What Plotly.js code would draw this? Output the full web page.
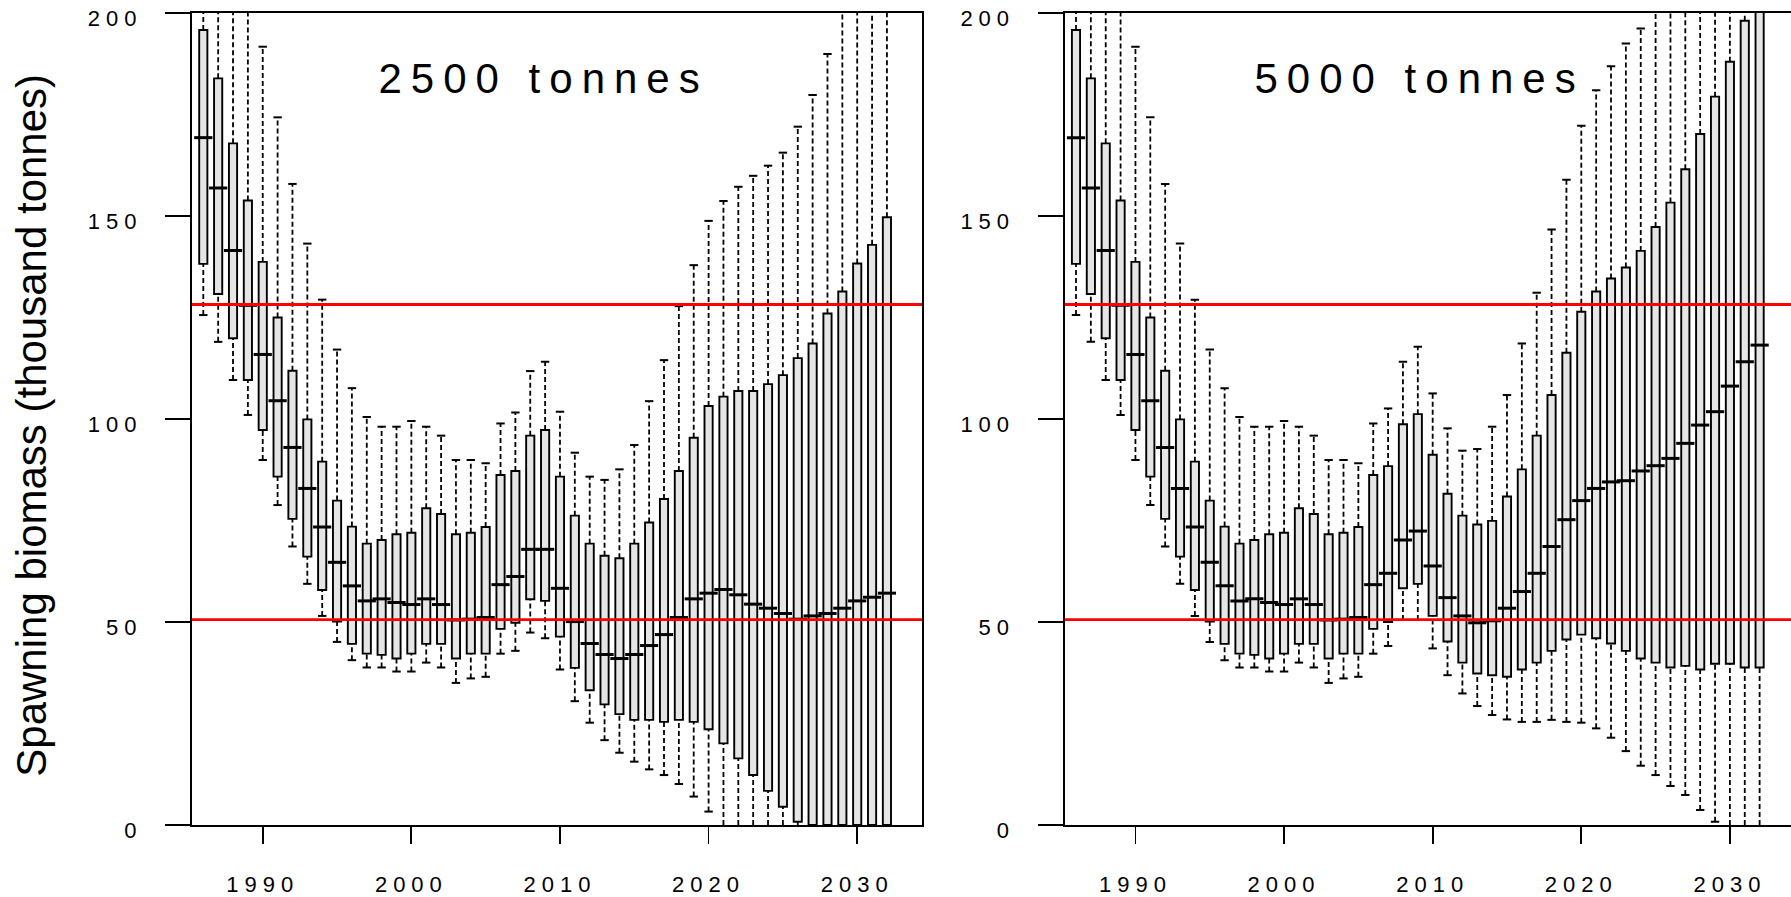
<!DOCTYPE html>
<html><head><meta charset="utf-8">
<script src="https://cdn.plot.ly/plotly-3.0.1.min.js"></script>
<style>
html,body{margin:0;padding:0;overflow:hidden;background:#fff;}
#chart{width:1800px;height:897px;}
g.xtick text, g.ytick text, g.x2tick text, g.y2tick text {letter-spacing:6px;}
g.annotation[data-index="1"] text, g.annotation[data-index="2"] text {letter-spacing:9px;}
</style></head><body><div id="chart"></div>
<script>
// ---- data ----
const years = [1986,1987,1988,1989,1990,1991,1992,1993,1994,1995,1996,1997,1998,1999,2000,
  2001,2002,2003,2004,2005,2006,2007,2008,2009,2010,2011,2012,2013,2014,2015,2016,2017,2018,
  2019,2020,2021,2022,2023,2024,2025,2026,2027,2028,2029,2030,2031,2032];

const panelTitles = ["2500 tonnes", "5000 tonnes"];
const xTickVals = [1990, 2000, 2010, 2020, 2030];
const yTickVals = [0, 50, 100, 150, 200];
const refLevels = [50.6, 128.2];
const yTitle = "Spawning biomass (thousand tonnes)";

// 2500 tonnes scenario
const lowA  = [125.6,119.0,109.6,101.0,89.9,78.8,68.6,59.4,51.5,45.1,40.6,38.8,38.8,37.8,37.8,
  40.0,38.8,35.0,36.1,36.5,42.2,42.9,47.4,46.0,38.3,30.5,25.2,20.9,17.8,15.6,13.7,12.3,10.1,
  7.0,3.3,0,0,0,0,0,0,0,0,0,0,0,0];
const q1A   = [138.2,130.8,119.9,109.6,97.3,85.8,75.4,66.1,57.9,50.1,44.6,42.2,41.9,41.0,42.2,
  44.6,44.6,41.0,42.2,42.2,48.3,49.8,55.6,55.2,46.4,38.7,33.2,29.7,27.3,25.9,25.9,25.4,25.9,
  25.4,23.6,20.1,16.4,12.3,8.4,4.5,0.8,0,0,0,0,0,0];
const medA  = [169.3,156.9,141.5,128.0,115.9,104.5,93.0,82.9,73.4,64.7,58.9,55.2,55.7,54.8,54.3,
  55.7,54.3,50.5,50.7,51.1,59.2,61.2,67.9,67.9,58.3,50.1,44.7,42.0,41.0,42.0,44.2,46.9,51.1,
  55.7,57.1,58.0,56.7,54.4,53.4,52.1,50.7,51.5,52.1,53.4,55.2,56.1,57.1];
const q3A   = [195.8,183.9,167.9,153.8,138.7,125.0,111.9,99.9,89.5,79.9,73.5,69.3,70.2,71.6,72.0,
  78.0,76.6,71.6,72.0,73.4,86.2,87.2,95.9,97.3,85.8,76.2,69.3,66.3,65.7,69.3,74.5,80.3,87.2,
  95.4,103.2,105.5,106.9,106.9,108.6,110.8,115.0,118.6,126.0,131.4,138.3,142.9,149.7];
const highA = [230,215,208,204,191.7,174.3,157.9,143.2,129.4,117.1,107.6,100.5,98.1,98.1,99.5,
  98.1,95.9,89.9,89.9,89.1,98.9,101.6,111.8,114.1,101.8,91.7,85.8,85.0,87.6,93.6,104.4,114.5,127.8,
  137.9,148.8,153.7,157.2,159.9,162.4,165.6,172.0,179.8,189.9,203,212,222,232];

// 5000 tonnes scenario
const lowB  = [125.6,119.0,109.6,101.0,89.9,78.8,68.6,59.4,51.5,45.1,40.6,38.8,38.8,37.8,37.8,
  40.0,38.8,35.0,36.1,36.5,42.2,44.1,50.5,50.5,43.5,36.9,32.4,29.3,27.1,26.0,25.4,25.4,25.9,
  25.4,25.2,23.8,21.5,18.2,14.6,12.3,9.6,7.4,3.7,0.8,0,0,0];
const q1B   = [138.2,130.8,119.9,109.6,97.3,85.8,75.4,66.1,57.9,50.1,44.6,42.2,41.9,41.0,42.2,
  44.6,44.6,41.0,42.2,42.2,48.3,50.0,58.3,59.4,51.5,45.2,40.0,37.3,36.9,36.5,38.3,40.0,42.9,
  45.7,46.9,46.0,44.7,42.9,41.0,40.0,38.8,39.2,38.3,39.7,39.7,38.8,38.8];
const medB  = [169.3,156.9,141.5,128.0,115.9,104.5,93.0,82.9,73.4,64.7,58.9,55.2,55.7,54.8,54.3,
  55.7,54.3,50.5,50.7,51.1,59.2,62.0,70.2,72.4,63.8,56.0,51.5,49.8,50.3,53.4,57.5,62.0,68.6,
  75.2,79.9,82.9,84.5,84.8,87.2,88.5,90.3,94.0,98.5,101.8,108.1,114.1,118.2];
const q3B   = [195.8,183.9,167.9,153.8,138.7,125.0,111.9,99.9,89.5,79.9,73.5,69.3,70.2,71.6,72.0,
  78.0,76.6,71.6,72.0,73.4,86.2,88.4,98.7,101.2,91.2,81.6,76.2,74.0,74.9,80.9,87.6,95.9,105.9,
  116.3,126.4,131.4,134.6,137.3,141.4,147.3,153.3,161.5,170.2,179.4,188.0,198.1,210];
const highB = [230,215,208,204,191.7,174.3,157.9,143.2,129.4,117.1,107.6,100.5,98.1,98.1,99.5,
  98.1,95.9,89.9,89.9,89.1,98.9,102.6,114.1,117.8,106.3,97.7,92.2,92.6,98.1,105.9,118.6,131.1,146.7,
  158.9,172.2,181.0,186.9,192.5,196.2,206,216,228,240,252,265,278,292];

// ---- build ----
const YMAX = 200;
function panelTraces(xa, ya, lo, q1, med, q3, hi) {
  const wx = [], wy = [];
  years.forEach((yr, i) => {
    wx.push(yr, yr, null, yr, yr, null);
    wy.push(q3[i], hi[i], null, lo[i], q1[i], null);
  });
  const cx = [], cy = [];
  years.forEach((yr, i) => {
    if (hi[i] < YMAX) { cx.push(yr); cy.push(hi[i]); }
    if (lo[i] > 0) { cx.push(yr); cy.push(lo[i]); }
  });
  return [
    {type:'scatter', mode:'lines', x:wx, y:wy, xaxis:xa, yaxis:ya, hoverinfo:'skip',
     line:{color:'#000', width:1.8, dash:'5px,3px'}},
    {type:'scatter', mode:'markers', x:cx, y:cy, xaxis:xa, yaxis:ya, hoverinfo:'skip',
     marker:{symbol:'line-ew', size:6, color:'#000', line:{color:'#000', width:2}}},
    {type:'bar', x:years, base:q1, y:q3.map((v, i) => v - q1[i]), xaxis:xa, yaxis:ya,
     width:0.55, hoverinfo:'skip',
     marker:{color:'#e5e5e5', line:{color:'#000', width:1.9}}},
    {type:'scatter', mode:'markers', x:years, y:med, xaxis:xa, yaxis:ya, hoverinfo:'skip',
     marker:{symbol:'line-ew', size:13, color:'#000', line:{color:'#000', width:3}}}
  ];
}

const data = [
  ...panelTraces('x', 'y', lowA, q1A, medA, q3A, highA),
  ...panelTraces('x2', 'y2', lowB, q1B, medB, q3B, highB)
];

const W = 1800, H = 897;
const tickFont = {family:'Liberation Sans, Arial, sans-serif', size:22, color:'#000'};
function xAxis(domain, anchor) {
  return {domain:domain, anchor:anchor, range:[1985.24, 2034.36], tickvals:xTickVals,
    ticks:'outside', ticklen:17, tickwidth:1.8, tickcolor:'#000', showline:true, linewidth:2.2,
    linecolor:'#000', mirror:true, showgrid:false, zeroline:false, tickfont:tickFont,
    ticklabelstandoff:21, fixedrange:true};
}
function yAxis(domain, anchor) {
  return {domain:domain, anchor:anchor, range:[0, YMAX], tickvals:yTickVals,
    ticks:'outside', ticklen:25, tickwidth:1.3, tickcolor:'#000', showline:true, linewidth:2.2,
    linecolor:'#000', mirror:true, showgrid:false, zeroline:false, tickfont:tickFont,
    ticklabelstandoff:18, ticklabelshift:5, fixedrange:true};
}
const yDom = [(H - 825) / H, (H - 13) / H];

const shapes = [];
['x', 'x2'].forEach((xa, k) => {
  refLevels.forEach(v => {
    shapes.push({type:'line', xref: xa + ' domain', yref: k === 0 ? 'y' : 'y2',
      x0:0, x1:1, y0:v, y1:v, layer:'above', line:{color:'#ff0000', width:2.8}});
  });
});

const layout = {
  width: W, height: H, margin:{l:0, r:0, t:0, b:0}, showlegend:false,
  paper_bgcolor:'#fff', plot_bgcolor:'#fff', barmode:'overlay',
  xaxis: xAxis([192 / W, 922 / W], 'y'),
  yaxis: yAxis(yDom, 'x'),
  xaxis2: xAxis([1064.7 / W, 1794.7 / W], 'y2'),
  yaxis2: yAxis(yDom, 'x2'),
  shapes: shapes,
  annotations: [
    {text: yTitle, xref:'paper', yref:'paper', x:32 / W, y:(H - 425.7) / H, textangle:-90,
     showarrow:false, xanchor:'center', yanchor:'middle',
     font:{family:'Liberation Sans, Arial, sans-serif', size:42, color:'#000'}},
    {text: panelTitles[0], xref:'paper', yref:'paper', x:(539 + 4.5) / W, y:(H - 78) / H,
     showarrow:false, xanchor:'center', yanchor:'middle',
     font:{family:'Liberation Sans, Arial, sans-serif', size:42, color:'#000'}},
    {text: panelTitles[1], xref:'paper', yref:'paper', x:(1415 + 4.5) / W, y:(H - 78) / H,
     showarrow:false, xanchor:'center', yanchor:'middle',
     font:{family:'Liberation Sans, Arial, sans-serif', size:42, color:'#000'}}
  ]
};

Plotly.newPlot('chart', data, layout, {displayModeBar:false, staticPlot:true});
</script></body></html>
